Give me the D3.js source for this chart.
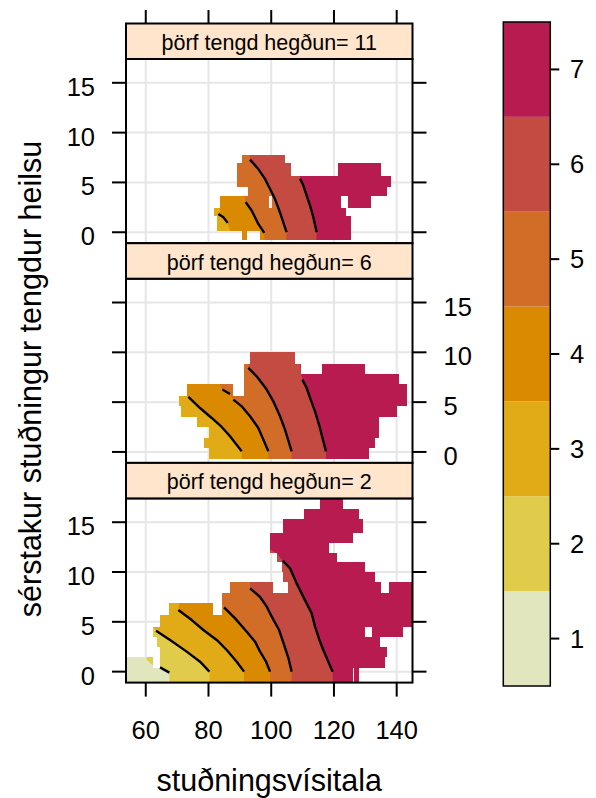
<!DOCTYPE html>
<html><head><meta charset="utf-8">
<script src="https://cdn.jsdelivr.net/npm/d3@7"></script>
<style>
body{margin:0;background:#fff}
svg{display:block;font-family:"Liberation Sans",Arial,Helvetica,sans-serif}
</style>
</head><body>
<svg id="chart" width="596" height="798"></svg>
<script>
// ---------- data ----------
const levels = [1, 2, 3, 4, 5, 6, 7];
const levelColors = ["#E1E6BF", "#E1CB4A", "#E0AB16", "#DA8A00", "#D26D27", "#C44B42", "#B81B50"];
const xTicks = [60, 80, 100, 120, 140];
const yTicks = [0, 5, 10, 15];
const xRange = [53.7, 145.04];
const yRange = [-1.1, 17.39];
const stripLabels = ["þörf tengd hegðun= 11", "þörf tengd hegðun= 6", "þörf tengd hegðun= 2"];
const xTitle = "stuðningsvísitala";
const yTitle = "sérstakur stuðningur tengdur heilsu";

// filled (non-missing) cells of each panel: [yFrom, yTo, xFrom, xTo]
const mask11 = [
  [-0.8, 0.17, 90.8, 92.2], [-0.8, 0.17, 96.4, 125.3],
  [0.17, 1.6, 82.6, 125.3],
  [1.6, 2.45, 81.6, 123.8],
  [2.45, 3.6, 83.7, 99.3], [2.45, 3.6, 100.1, 122.1], [2.45, 3.6, 124.4, 131.7],
  [3.6, 4.52, 92.7, 137.0],
  [4.52, 5.69, 89.0, 138.1],
  [5.69, 6.96, 89.0, 106.3], [5.69, 6.96, 121.4, 134.9],
  [6.96, 7.8, 90.8, 104.4]
];
const mask6 = [
  [-0.75, 0.37, 80.3, 131.2],
  [0.37, 1.42, 78.6, 133.1],
  [1.42, 2.48, 80.3, 134.4],
  [2.48, 3.55, 76.4, 134.4],
  [3.55, 4.6, 71.25, 140.2],
  [4.6, 5.65, 70.7, 143.2],
  [5.65, 6.86, 73.3, 87.7], [5.65, 6.86, 91.3, 143.2],
  [6.86, 7.86, 91.3, 140.8],
  [7.86, 8.87, 91.3, 109.5], [7.86, 8.87, 116.1, 129.9],
  [8.87, 10.04, 93.2, 107.6]
];
const mask2 = [
  [-1.1, 0.33, 53.7, 126.0], [-1.1, 0.33, 126.5, 128.0],
  [0.33, 1.51, 53.7, 62.4], [0.33, 1.51, 64.4, 136.3],
  [1.51, 2.51, 64.4, 136.8],
  [2.51, 3.51, 63.5, 134.7],
  [3.51, 4.52, 62.4, 129.9], [3.51, 4.52, 132.0, 142.1],
  [4.52, 5.69, 64.4, 145.3],
  [5.69, 6.86, 67.5, 81.4], [5.69, 6.86, 84.2, 145.3],
  [6.86, 7.86, 84.2, 145.3],
  [7.86, 9.0, 86.9, 100.5], [7.86, 9.0, 105.5, 134.9], [7.86, 9.0, 137.4, 145.3],
  [9.0, 10.0, 103.6, 133.1],
  [10.0, 11.0, 103.4, 129.9],
  [11.0, 11.94, 101.8, 120.9],
  [11.94, 12.94, 99.6, 118.4],
  [12.94, 13.95, 99.6, 126.2],
  [13.95, 15.28, 103.6, 129.2],
  [15.28, 16.29, 110.5, 128.0],
  [16.29, 17.4, 115.6, 122.8]
];

// level boundaries (left side = level, right side = level+1), points from top to bottom.
// "lines" are the drawn contour lines; "top"/"bottom" continue the colour edge beyond them.
const edges11 = [
  {level: 3, top: [[83.7, 4.0], [83.7, 2.1]],
   lines: [[[83.15, 1.84], [84.74, 1.51], [86.12, 0.94]]],
   bottom: [[86.9, 0.17], [87.0, -2.2]]},
  {level: 4, top: [[85.0, 8.0], [88.0, 4.0], [91.4, 3.6]],
   lines: [[[91.85, 3.02], [93.76, 2.18], [94.82, 1.51], [95.88, 0.84], [97.79, -0.06]]],
   bottom: [[97.9, -2.2]]},
  {level: 5, top: [[92.5, 10.0], [93.2, 8.0]],
   lines: [[[93.23, 7.29], [95.67, 6.43], [98.0, 5.36], [99.59, 4.36], [101.18, 3.35], [102.77, 2.01], [103.84, 1.0], [104.9, 0.0]]],
   bottom: [[104.5, -2.2]]},
  {level: 6, top: [[108.0, 9.0], [109.1, 5.8]],
   lines: [[[109.2, 5.36], [110.24, 4.69], [111.3, 3.68], [112.37, 2.68], [113.43, 1.51], [114.49, 0.0]]],
   bottom: [[114.2, -2.2]]}
];
const edges6 = [
  {level: 3, top: [[65.0, 6.5], [72.5, 5.7]],
   lines: [[[73.59, 5.52], [77.3, 4.41], [81.02, 3.41], [84.2, 2.51], [86.86, 1.57], [90.58, 0.06]]],
   bottom: [[90.6, -2.2]]},
  {level: 4, top: [[83.0, 8.0], [83.5, 6.9]],
   lines: [[[84.42, 6.26], [86.86, 5.82]],
           [[87.92, 5.25], [90.58, 4.58], [93.23, 3.58], [95.89, 2.41], [99.08, 0.06]]],
   bottom: [[99.1, -2.2]]},
  {level: 5, top: [[92.5, 11.0], [92.8, 9.0]],
   lines: [[[92.7, 8.43], [95.36, 7.59], [98.55, 6.26], [100.67, 5.08], [102.8, 3.58], [104.39, 2.24], [106.51, 0.06]]],
   bottom: [[106.5, -2.2]]},
  {level: 6, top: [[108.5, 11.0], [109.5, 7.9]],
   lines: [[[109.92, 7.26], [111.3, 6.42], [112.58, 5.25], [113.96, 4.08], [115.55, 2.41], [116.61, 1.07], [117.46, 0.06]]],
   bottom: [[117.5, -2.2]]}
];
const edges2 = [
  {level: 1, top: [[60.3, 3.2], [60.3, 1.2], [62.4, 0.6]],
   lines: [[[64.56, 0.43], [67.54, -0.1]]],
   bottom: [[67.5, -2.2]]},
  {level: 2, top: [[58.2, 5.5], [61.4, 4.85]],
   lines: [[[63.28, 4.11], [67.75, 3.18], [73.06, 2.01], [77.31, 1.0], [80.29, 0.0]]],
   bottom: [[80.3, -2.2]]},
  {level: 3, top: [[70.4, 8.5], [70.7, 6.86]],
   lines: [[[70.4, 6.19], [74.65, 5.18], [78.37, 4.18], [82.62, 3.18], [85.81, 2.17], [89.0, 1.0], [91.34, 0.0]]],
   bottom: [[91.3, -2.2]]},
  {level: 4, top: [[82.6, 8.5], [83.7, 7.19]],
   lines: [[[84.96, 6.45], [88.47, 5.35], [92.19, 4.01], [94.85, 3.01], [96.44, 2.0], [98.35, 1.0], [99.63, 0.0]]],
   bottom: [[99.6, -2.2]]},
  {level: 5, top: [[92.2, 10.2], [93.25, 9.0]],
   lines: [[[93.25, 8.36], [96.44, 7.49], [98.57, 6.52], [100.16, 5.52], [102.5, 4.18], [104.1, 2.68], [105.5, 1.34], [106.5, 0.0]]],
   bottom: [[106.5, -2.2]]},
  {level: 6, top: [[94.3, 14.55], [99.1, 12.37], [101.76, 11.87]],
   lines: [[[103.67, 11.14], [106.0, 10.37], [108.1, 8.86], [110.2, 7.53], [112.9, 5.85], [113.97, 4.52], [115.36, 3.18], [116.6, 2.17], [118.2, 1.0], [119.6, 0.0]]],
   bottom: [[119.6, -2.2]]}
];

const panels = [
  {label: stripLabels[0], mask: mask11, edges: edges11, labelSide: "left"},
  {label: stripLabels[1], mask: mask6, edges: edges6, labelSide: "right"},
  {label: stripLabels[2], mask: mask2, edges: edges2, labelSide: "left"}
];

// ---------- layout ----------
const L = 126, R = 412.5;
const stripTop0 = 23.5, blockH = 219.7, stripH = 35.5;
const tickLen = 14, tickFont = 25.5, titleFont = 30.5, stripFont = 21.5;

const svg = d3.select("#chart");
const defs = svg.append("defs");
const x = d3.scaleLinear().domain(xRange).range([L, R]);

panels.forEach((p, i) => {
  const sTop = stripTop0 + i * blockH;
  const pTop = sTop + stripH, pBot = sTop + blockH;
  const y = d3.scaleLinear().domain(yRange).range([pBot, pTop]);
  const g = svg.append("g");

  const clipId = "pclip" + i, maskId = "mclip" + i;
  defs.append("clipPath").attr("id", clipId).append("rect")
    .attr("x", L).attr("y", pTop).attr("width", R - L).attr("height", pBot - pTop);
  defs.append("clipPath").attr("id", maskId).selectAll("rect").data(p.mask).join("rect")
    .attr("x", d => Math.round(x(d[2])))
    .attr("width", d => Math.round(x(d[3])) - Math.round(x(d[2])))
    .attr("y", d => Math.round(y(d[1])))
    .attr("height", d => Math.round(y(d[0])) - Math.round(y(d[1])));

  // background grid
  const grid = g.append("g").attr("clip-path", `url(#${clipId})`)
    .attr("stroke", "#E6E6E6").attr("stroke-width", 2);
  grid.selectAll("line.gx").data(xTicks).join("line").attr("class", "gx")
    .attr("x1", d => x(d)).attr("x2", d => x(d)).attr("y1", pTop).attr("y2", pBot);
  grid.selectAll("line.gy").data(yTicks).join("line").attr("class", "gy")
    .attr("y1", d => y(d)).attr("y2", d => y(d)).attr("x1", L).attr("x2", R);

  // filled level bands (painted from highest level down), clipped to the non-missing cells
  const fillG = g.append("g").attr("clip-path", `url(#${clipId})`)
    .append("g").attr("clip-path", `url(#${maskId})`);
  const topLevel = d3.max(p.edges, e => e.level) + 1;
  fillG.append("rect").attr("x", L).attr("y", pTop).attr("width", R - L).attr("height", pBot - pTop)
    .attr("fill", levelColors[topLevel - 1]);
  const line = d3.line().x(d => x(d[0])).y(d => y(d[1]));
  p.edges.slice().sort((a, b) => b.level - a.level).forEach(e => {
    const pts = [...e.top, ...e.lines.flat(), ...e.bottom];
    const poly = [[pts[0][0], 40], ...pts, [pts[pts.length - 1][0], -10],
                  [xRange[0] - 30, -10], [xRange[0] - 30, 40]];
    fillG.append("path").attr("d", line(poly) + "Z").attr("fill", levelColors[e.level - 1]);
  });

  // contour lines
  const cg = g.append("g").attr("clip-path", `url(#${clipId})`);
  p.edges.forEach(e => e.lines.forEach(l => {
    cg.append("path").attr("d", line(l)).attr("fill", "none")
      .attr("stroke", "#000").attr("stroke-width", 2.4).attr("stroke-linejoin", "round");
  }));

  // panel border
  g.append("rect").attr("x", L).attr("y", pTop).attr("width", R - L).attr("height", pBot - pTop)
    .attr("fill", "none").attr("stroke", "#000").attr("stroke-width", 2);

  // strip
  g.append("rect").attr("x", L).attr("y", sTop).attr("width", R - L).attr("height", stripH)
    .attr("fill", "#FFE5CC").attr("stroke", "#000").attr("stroke-width", 2);
  g.append("text").attr("x", (L + R) / 2).attr("y", sTop + 26.5)
    .attr("text-anchor", "middle").attr("font-size", stripFont).attr("fill", "#000").text(p.label);

  // y ticks on both sides
  const tk = g.append("g").attr("stroke", "#000").attr("stroke-width", 2);
  tk.selectAll("line.tl").data(yTicks).join("line").attr("class", "tl")
    .attr("x1", L - tickLen).attr("x2", L).attr("y1", d => y(d)).attr("y2", d => y(d));
  tk.selectAll("line.tr").data(yTicks).join("line").attr("class", "tr")
    .attr("x1", R).attr("x2", R + tickLen).attr("y1", d => y(d)).attr("y2", d => y(d));
  const left = p.labelSide === "left";
  g.append("g").selectAll("text").data(yTicks).join("text")
    .attr("x", left ? L - tickLen - 17 : R + tickLen + 17)
    .attr("y", d => y(d) + 13)
    .attr("text-anchor", left ? "end" : "start")
    .attr("font-size", tickFont).attr("fill", "#000").text(d => d);
});

// x axis ticks (top of first strip, bottom of last panel)
const topY = stripTop0, botY = stripTop0 + 2 * blockH + blockH;
const xa = svg.append("g").attr("stroke", "#000").attr("stroke-width", 2);
xa.selectAll("line.xt").data(xTicks).join("line").attr("class", "xt")
  .attr("x1", d => x(d)).attr("x2", d => x(d)).attr("y1", topY - 13.5).attr("y2", topY);
xa.selectAll("line.xb").data(xTicks).join("line").attr("class", "xb")
  .attr("x1", d => x(d)).attr("x2", d => x(d)).attr("y1", botY).attr("y2", botY + tickLen);
svg.append("g").selectAll("text").data(xTicks).join("text")
  .attr("x", d => x(d)).attr("y", botY + 56.5).attr("text-anchor", "middle")
  .attr("font-size", tickFont).attr("fill", "#000").text(d => d);

// axis titles
svg.append("text").attr("x", (L + R) / 2).attr("y", 791).attr("text-anchor", "middle")
  .attr("font-size", titleFont).attr("fill", "#000").text(xTitle);
svg.append("text").attr("transform", "translate(41,379) rotate(-90)").attr("text-anchor", "middle")
  .attr("font-size", titleFont).attr("fill", "#000").text(yTitle);

// colour key
const keyX0 = 503.3, keyX1 = 550.3;
const yk = d3.scaleLinear().domain([0.5, 7.5]).range([686, 22]);
const key = svg.append("g");
key.selectAll("rect.band").data(levels).join("rect").attr("class", "band")
  .attr("x", keyX0).attr("width", keyX1 - keyX0)
  .attr("y", d => yk(d + 0.5)).attr("height", d => yk(d - 0.5) - yk(d + 0.5))
  .attr("fill", d => levelColors[d - 1]);
key.append("rect").attr("x", keyX0).attr("y", yk(7.5)).attr("width", keyX1 - keyX0)
  .attr("height", yk(0.5) - yk(7.5)).attr("fill", "none").attr("stroke", "#000").attr("stroke-width", 1.5);
key.selectAll("line").data(levels).join("line")
  .attr("x1", keyX1).attr("x2", keyX1 + 9).attr("y1", d => yk(d)).attr("y2", d => yk(d))
  .attr("stroke", "#000").attr("stroke-width", 2);
key.selectAll("text").data(levels).join("text")
  .attr("x", 570).attr("y", d => yk(d) + 9).attr("font-size", tickFont).attr("fill", "#000").text(d => d);
</script>
</body></html>
